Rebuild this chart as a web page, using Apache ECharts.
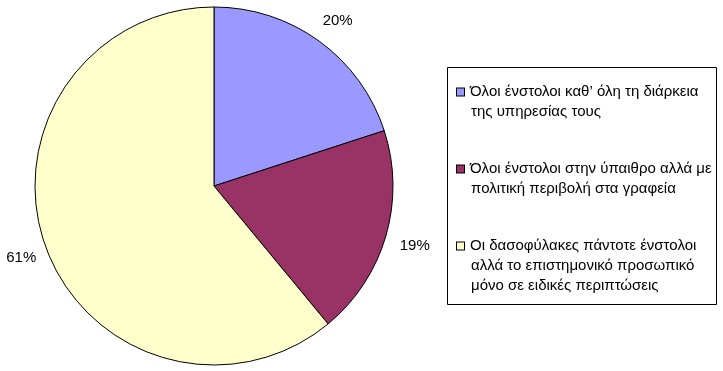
<!DOCTYPE html>
<html>
<head>
<meta charset="utf-8">
<script src="https://cdn.jsdelivr.net/npm/echarts@6/dist/echarts.min.js"></script>
<style>
  html, body { margin: 0; padding: 0; background: #fff; }
  #chart { width: 723px; height: 371px; }
</style>
</head>
<body>
<div id="chart"></div>
<script>
// κατηγορίες (με αλλαγές γραμμής όπως στο υπόμνημα)
const categories = [
  "Όλοι ένστολοι καθ’ όλη τη διάρκεια\nτης υπηρεσίας τους",
  "Όλοι ένστολοι στην ύπαιθρο αλλά με\nπολιτική περιβολή στα γραφεία",
  "Οι δασοφύλακες πάντοτε ένστολοι\nαλλά το επιστημονικό προσωπικό\nμόνο σε ειδικές περιπτώσεις"
];
// ποσοστά
const values = [20, 19, 61];
const colors = ["#9999FF", "#993366", "#FFFFCC"];

const chart = echarts.init(document.getElementById("chart"));

// rich styles for the legend markers
const rich = { g: { width: 6 }, s: { width: 14 } };
colors.forEach((c, i) => {
  rich["m" + i] = {
    width: 7,
    height: 7,
    backgroundColor: c,
    borderColor: "#000",
    borderWidth: 1
  };
});

const option = {
  backgroundColor: "#fff",
  animation: false,
  // πλαίσιο υπομνήματος
  graphic: [
    {
      type: "rect",
      shape: { x: 447.5, y: 67.5, width: 269, height: 237 },
      style: { fill: "none", stroke: "#000", lineWidth: 1 },
      silent: true
    }
  ],
  legend: {
    orient: "vertical",
    left: 447,
    top: 67,
    padding: [15, 0, 10, 5],
    itemGap: 37,
    itemWidth: 0,
    itemHeight: 0,
    icon: "none",
    selectedMode: false,
    textStyle: {
      fontFamily: "Liberation Sans, Arial",
      fontSize: 15,
      lineHeight: 20,
      color: "#000",
      rich: rich
    },
    formatter: function (name) {
      const i = categories.indexOf(name);
      const lines = name.split("\n");
      return lines
        .map((l, k) => (k === 0 ? "{m" + i + "|}{g|}" : "{s|}") + l)
        .join("\n");
    },
    data: categories
  },
  series: [
    {
      type: "pie",
      center: [214, 186],
      radius: 179,
      startAngle: 90,
      clockwise: true,
      avoidLabelOverlap: false,
      data: categories.map((name, i) => ({
        name: name,
        value: values[i],
        itemStyle: { color: colors[i] }
      })),
      itemStyle: { borderColor: "#000", borderWidth: 1 },
      label: {
        show: true,
        position: "outside",
        formatter: "{c}%",
        fontFamily: "Liberation Sans, Arial",
        fontSize: 15,
        color: "#000"
      },
      labelLine: {
        show: true,
        length: 28,
        length2: 0,
        lineStyle: { color: "rgba(0,0,0,0)" }
      },
      labelLayout: function (params) {
        const p = params.labelLinePoints;
        if (!p) return {};
        return { x: p[1][0] + 2, y: p[1][1] + 2, align: "center", verticalAlign: "middle" };
      },
      emphasis: { disabled: true }
    }
  ]
};

chart.setOption(option);
</script>
</body>
</html>
